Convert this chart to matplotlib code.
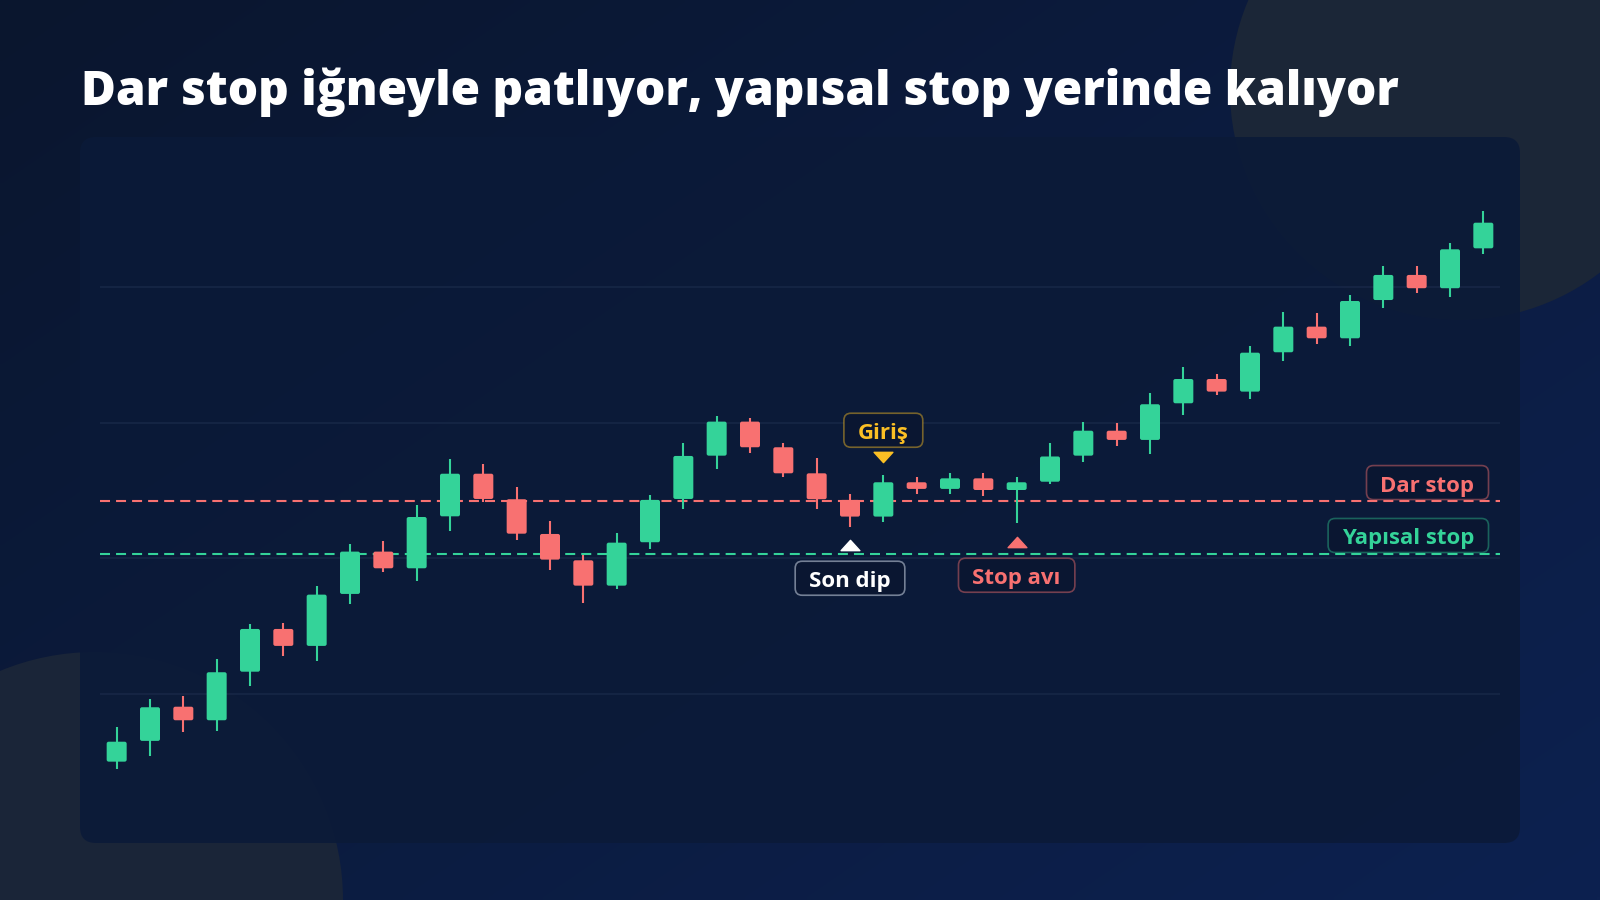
import matplotlib
matplotlib.use("Agg")
import numpy as np
import matplotlib.pyplot as plt
from matplotlib.colors import to_rgb
from matplotlib.patches import Circle, FancyBboxPatch
from matplotlib.path import Path
from matplotlib.transforms import IdentityTransform, ScaledTranslation

plt.rcParams["font.family"] = ["Open Sans", "DejaVu Sans"]

# OHLC per candle
opens = [95.01, 96.54, 99.06, 98.06, 101.64, 104.79, 103.54, 107.37, 110.49, 109.26,
         113.09, 116.23, 114.35, 111.79, 109.85, 107.98, 111.18, 114.37, 117.56, 120.07,
         118.18, 116.26, 114.30, 113.07, 115.60, 115.11, 115.89, 115.03, 115.64, 117.56,
         119.40, 118.72, 121.42, 123.21, 122.28, 125.18, 127.07, 126.21, 129.03, 130.88,
         129.90, 132.84]
highs = [97.59, 99.63, 99.85, 102.56, 105.14, 105.25, 107.98, 111.05, 111.25, 113.93,
         117.32, 116.93, 115.25, 112.75, 110.27, 111.86, 114.64, 118.52, 120.49, 120.34,
         118.47, 117.37, 114.72, 116.14, 115.97, 116.26, 116.26, 115.97, 118.53, 120.07,
         119.95, 122.16, 124.07, 123.56, 125.67, 128.13, 128.10, 129.40, 131.56, 131.56,
         133.21, 135.61]
lows = [94.47, 95.45, 97.22, 97.30, 100.59, 102.80, 102.43, 106.63, 109.01, 108.30,
        112.03, 114.13, 111.33, 109.14, 106.73, 107.74, 110.69, 113.61, 116.56, 117.74,
        116.01, 113.61, 112.33, 112.70, 114.74, 114.74, 114.59, 112.58, 115.44, 117.07,
        118.28, 117.66, 120.56, 122.03, 121.72, 124.56, 125.79, 125.67, 128.42, 129.53,
        129.28, 132.42]
closes = [96.48, 99.02, 98.06, 101.60, 104.79, 103.54, 107.32, 110.49, 109.26, 113.04,
          116.23, 114.37, 111.81, 109.90, 107.98, 111.15, 114.30, 117.54, 120.07, 118.18,
          116.26, 114.35, 113.07, 115.60, 115.11, 115.89, 115.03, 115.60, 117.50, 119.40,
          118.72, 121.35, 123.21, 122.28, 125.15, 127.07, 126.21, 128.96, 130.88, 129.90,
          132.77, 134.73]

grid_levels = [100, 110, 120, 130]
dar_stop = 114.2
yapisal_stop = 110.3
son_dip_idx = 22
giris_idx = 23
stop_avi_idx = 27

title = "Dar stop iğneyle patlıyor, yapısal stop yerinde kalıyor"

GREEN = "#34d399"
RED = "#f87171"
AMBER = "#fbbf24"
WHITE = "#ffffff"
BOX = "#0a1631"

W, H = 1600, 900
fig = plt.figure(figsize=(16, 9), dpi=100)

# background: gradient, soft circles, card
bg = fig.add_axes([0, 0, 1, 1], zorder=-2)
bg.set_xlim(0, W)
bg.set_ylim(H, 0)
bg.axis("off")
gx, gy = np.meshgrid(np.linspace(0, 1, 320), np.linspace(0, 1, 180))
mix = (0.55 * gx + 0.45 * gy)[..., None]
c0, c1 = np.array(to_rgb("#0a162e")), np.array(to_rgb("#0d2150"))
bg.imshow(c0 + (c1 - c0) * mix, extent=(0, W, H, 0), aspect="auto",
          interpolation="bilinear")
bg.add_patch(Circle((1460, 90), 230, color="#1b2637", lw=0))
bg.add_patch(Circle((95, 900), 248, color="#1a2538", lw=0))
bg.add_patch(FancyBboxPatch((80, 137), 1440, 706,
                            boxstyle="round,pad=0,rounding_size=16",
                            fc="#0b1a38", alpha=0.9, lw=0))

# chart
ax = fig.add_axes([100 / W, 80 / H, 1400 / W, 660 / H])
ax.set_facecolor("none")
ax.set_xlim(-0.5, len(opens) - 0.5)
ax.set_ylim(90.71, 139.35)
ax.set_yticks(grid_levels)
ax.set_xticks([])
ax.grid(axis="y", color="#172746", lw=1.2)
ax.tick_params(length=0, labelleft=False)
for s in ax.spines.values():
    s.set_visible(False)

for i in range(len(opens)):
    col = GREEN if closes[i] >= opens[i] else RED
    ax.vlines(i, lows[i], highs[i], color=col, lw=1.5, zorder=3)
    lo, hi = min(opens[i], closes[i]), max(opens[i], closes[i])
    ax.add_patch(FancyBboxPatch((i - 0.3, lo), 0.6, hi - lo,
                                boxstyle="round,pad=0,rounding_size=0.06",
                                mutation_aspect=2.45, fc=col, lw=0, zorder=4))

ax.axhline(dar_stop, color=RED, lw=1.5, dashes=(4.8, 2.9), zorder=2)
ax.axhline(yapisal_stop, color=GREEN, lw=1.5, dashes=(4.8, 2.9), zorder=2)

tri = [(-1, -0.55), (1, -0.55), (0, 0.55), (-1, -0.55)]
codes = [Path.MOVETO, Path.LINETO, Path.LINETO, Path.CLOSEPOLY]
tri_up = Path(tri, codes)
tri_dn = Path([(a, -b) for a, b in tri], codes)


def shifted(dy_px):
    return ax.transData + ScaledTranslation(0, dy_px / 100, fig.dpi_scale_trans)


ax.plot(son_dip_idx, lows[son_dip_idx], marker=tri_up, ms=13.5, color=WHITE,
        transform=shifted(-18.3), zorder=5)
ax.plot(giris_idx, highs[giris_idx], marker=tri_dn, ms=13.5, color=AMBER,
        transform=shifted(18.3), zorder=5)
ax.plot(stop_avi_idx, lows[stop_avi_idx], marker=tri_up, ms=13.5, color=RED,
        transform=shifted(-18.4), zorder=5)

fig.canvas.draw()
renderer = fig.canvas.get_renderer()

# title, fitted to the reference width
ttl = fig.text(81, H - 105, title, transform=IdentityTransform(), fontsize=33.5,
               fontweight=800, color=WHITE, va="baseline")
tw = ttl.get_window_extent(renderer).width
if abs(tw - 1320) > 3:
    ttl.set_fontsize(33.5 * 1320 / tw)


def tag(xd, yd, dx, dy, s, color, edge, ha="center"):
    px, py = ax.transData.transform((xd, yd))
    px, py = px + dx, py + dy
    t = fig.text(px, py, s, transform=IdentityTransform(), ha=ha, va="baseline",
                 color=color, fontsize=16, fontweight="bold", zorder=6)
    bb = t.get_window_extent(renderer)
    cy = py + 9
    fig.add_artist(FancyBboxPatch((bb.x0 - 14, cy - 17), bb.width + 28, 34,
                                  boxstyle="round,pad=0,rounding_size=7",
                                  transform=IdentityTransform(), fc=BOX,
                                  ec=edge, lw=1.2, zorder=5))


right = len(opens) - 0.5
tag(giris_idx, highs[giris_idx], 0, 35.7, "Giriş", AMBER, (0.98, 0.75, 0.14, 0.45))
tag(son_dip_idx, lows[son_dip_idx], 0, -60.6, "Son dip", WHITE, (0.8, 0.84, 0.9, 0.55))
tag(stop_avi_idx, lows[stop_avi_idx], 0, -61, "Stop avı", RED, (0.97, 0.44, 0.44, 0.45))
tag(right, dar_stop, -25.5, 9.7, "Dar stop", RED, (0.97, 0.44, 0.44, 0.45), ha="right")
tag(right, yapisal_stop, -25.5, 9.7, "Yapısal stop", GREEN, (0.2, 0.83, 0.6, 0.4), ha="right")

fig.savefig("out.png", dpi=100)
